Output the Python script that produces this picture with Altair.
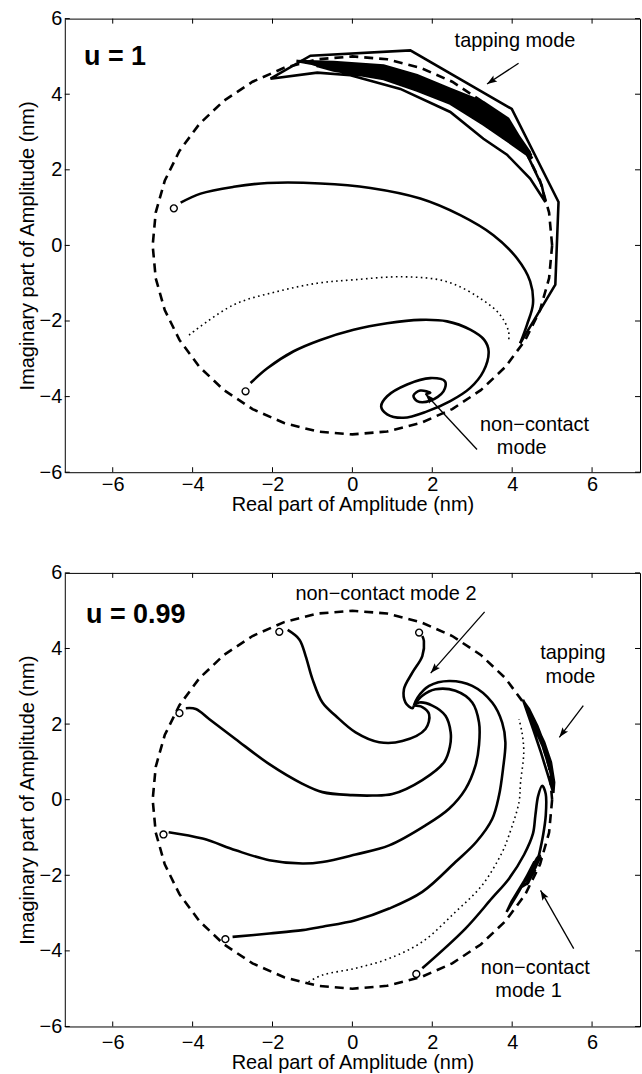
import math

import altair as alt
import pandas as pd

# ---------------- layout of each panel ----------------
X_DOMAIN = [-7.2, 7.2]
Y_DOMAIN = [-6, 6]
TICKS = [-6, -4, -2, 0, 2, 4, 6]
PANEL_W = 577
PANEL_H = 455
FONT = "Liberation Sans"
LINE_W = 2.6

# ---------------- amplitude bound |A| = 5 nm (dashed circle) ----------------
CIRCLE_X = [5.0, 4.924, 4.698, 4.330, 3.830, 3.214, 2.5, 1.710, 0.868, 0.0,
            -0.868, -1.710, -2.5, -3.214, -3.830, -4.330, -4.698, -4.924, -5.0,
            -4.924, -4.698, -4.330, -3.830, -3.214, -2.5, -1.710, -0.868, 0.0,
            0.868, 1.710, 2.5, 3.214, 3.830, 4.330, 4.698, 4.924, 5.0]
CIRCLE_Y = [0.0, 0.868, 1.710, 2.5, 3.214, 3.830, 4.330, 4.698, 4.924, 5.0,
            4.924, 4.698, 4.330, 3.830, 3.214, 2.5, 1.710, 0.868, 0.0,
            -0.868, -1.710, -2.5, -3.214, -3.830, -4.330, -4.698, -4.924, -5.0,
            -4.924, -4.698, -4.330, -3.830, -3.214, -2.5, -1.710, -0.868, 0.0]

# ================= upper panel: u = 1 =================
U1_START_X = [-4.47, -2.675]
U1_START_Y = [0.98, -3.86]

# trajectory that ends on the tapping-mode orbit (smooth approach)
U1_A_X = [-4.30, -3.80, -2.97, -2.13, -0.80, 0.45, 1.70, 2.70, 3.53, 4.12, 4.45, 4.52, 4.37, 4.20]
U1_A_Y = [1.13, 1.37, 1.55, 1.65, 1.64, 1.52, 1.24, 0.80, 0.27, -0.34, -0.95, -1.55, -2.10, -2.59]

# tapping-mode orbit (polygonal, sampled once per cycle)
U1_TAP_X = [4.20, 5.08, 5.16, 3.99, 1.45, -1.05, -2.05, -0.88, -0.05, 1.20, 2.45, 3.28, 3.87, 4.45, 4.83, 4.74, 4.40,
            3.90, 3.28, 2.45, 1.62, 0.78, -0.47, -1.20,
            -0.47, 0.78, 1.62, 2.45, 3.28, 3.90, 4.45,
            3.90, 3.28, 2.45, 1.62, 0.78, -0.47, -1.00,
            -0.47, 0.78, 1.62, 2.45, 3.28, 3.90, 4.35,
            3.90, 3.28, 2.45, 1.62, 0.78, -0.47, -1.40,
            -0.47, 0.78, 1.62, 2.45, 3.28, 3.90, 4.50,
            3.90, 3.28, 2.45, 1.62, 0.78, -0.47, -0.90,
            -0.47, 0.78, 1.62, 2.45, 3.28, 3.90, 4.40,
            3.90, 3.28, 2.45, 1.62, 0.78, -0.47, -1.10,
            -0.47, 0.78, 1.62, 2.45, 3.28, 3.90, 4.42,
            3.90, 3.28, 2.45, 1.62, 0.78, -0.47, -1.30,
            -0.47, 0.78, 1.62, 2.45, 3.28, 3.90, 4.48]
U1_TAP_Y = [-2.59, -1.04, 1.15, 3.61, 5.16, 5.02, 4.41, 4.57, 4.50, 4.14, 3.53, 2.82, 2.40, 1.77, 1.15, 1.59, 2.35,
            3.05, 3.50, 3.95, 4.30, 4.58, 4.74, 4.86,
            4.83, 4.72, 4.46, 4.10, 3.73, 3.29, 2.45,
            2.81, 3.26, 3.79, 4.14, 4.44, 4.65, 4.80,
            4.78, 4.65, 4.38, 4.02, 3.61, 3.17, 2.55,
            2.93, 3.38, 3.87, 4.22, 4.51, 4.70, 4.88,
            4.85, 4.76, 4.50, 4.14, 3.79, 3.35, 2.30,
            2.75, 3.20, 3.75, 4.10, 4.40, 4.63, 4.75,
            4.67, 4.47, 4.18, 3.83, 3.32, 2.87, 2.40,
            3.11, 3.55, 3.98, 4.34, 4.62, 4.76, 4.84,
            4.81, 4.69, 4.42, 4.06, 3.67, 3.23, 2.50,
            2.99, 3.44, 3.91, 4.26, 4.54, 4.72, 4.87,
            4.84, 4.74, 4.48, 4.12, 3.76, 3.32, 2.38]

# trajectory spiralling into the non-contact fixed point
U1_B_X = [-2.55, -2.13, -1.47, -0.80, 0.03, 0.87, 1.70, 2.37, 2.95, 3.30, 3.41, 3.28, 2.95, 2.45, 1.87,
          1.28, 0.87, 0.72, 0.87, 1.37, 1.95, 2.32, 2.28, 1.95, 1.62, 1.53, 1.70, 1.95, 1.83]
U1_B_Y = [-3.64, -3.25, -2.80, -2.50, -2.23, -2.06, -1.97, -2.01, -2.23, -2.50, -2.80, -3.33, -3.77, -4.12, -4.39,
          -4.56, -4.47, -4.26, -3.99, -3.68, -3.51, -3.60, -3.86, -4.11, -4.12, -3.97, -3.84, -3.90, -3.93]

# separatrix (dotted)
U1_SEP_X = [-4.09, -2.97, -1.88, -0.88, 0.03, 1.28, 2.37, 3.20, 3.70, 3.91, 3.91]
U1_SEP_Y = [-2.37, -1.57, -1.22, -1.00, -0.91, -0.83, -0.96, -1.40, -1.84, -2.28, -2.54]

# annotation arrows: tail -> head
U1_ARROW_X0 = [4.16, 3.12]
U1_ARROW_Y0 = [4.82, -5.40]
U1_ARROW_X1 = [3.37, 1.83]
U1_ARROW_Y1 = [4.27, -3.93]

U1_NOTE_TEXT = ["tapping mode", "non\u2212contact", "mode"]
U1_NOTE_X = [4.07, 4.56, 4.24]
U1_NOTE_Y = [5.24, -4.92, -5.52]
U1_LABEL = ["u = 1"]
U1_LABEL_X = [-6.72]
U1_LABEL_Y = [4.77]

# ================= lower panel: u = 0.99 =================
U2_START_X = [-1.83, -4.33, -4.73, -3.18, 1.60, 1.67]
U2_START_Y = [4.44, 2.29, -0.92, -3.69, -4.61, 4.42]

U2_C1_X = [-1.62, -1.33, -1.17, -1.00, -0.75, -0.42, 0.08, 0.67, 1.25, 1.83, 1.92, 1.75, 1.54]
U2_C1_Y = [4.49, 4.24, 3.80, 3.19, 2.57, 2.22, 1.78, 1.52, 1.55, 1.87, 2.26, 2.45, 2.49]

U2_C2_X = [-4.17, -3.92, -3.58, -2.92, -2.08, -1.25, -0.75, 0.00, 0.50, 1.00, 1.75, 2.30, 2.44, 2.46, 2.33,
           2.00, 1.67, 1.54]
U2_C2_Y = [2.42, 2.40, 2.13, 1.60, 0.94, 0.42, 0.20, 0.12, 0.11, 0.15, 0.52, 1.00, 1.40, 1.78, 2.22,
           2.49, 2.57, 2.49]

U2_C3_X = [-4.60, -3.75, -2.92, -2.08, -1.25, -0.75, 0.08, 0.92, 1.83, 2.42, 2.83, 3.08, 3.17, 3.17, 3.00,
           2.58, 2.08, 1.75, 1.54]
U2_C3_Y = [-0.86, -1.03, -1.34, -1.60, -1.69, -1.65, -1.45, -1.21, -0.68, -0.24, 0.28, 0.90, 1.45, 2.04, 2.57,
           2.88, 2.92, 2.75, 2.49]

U2_C4_X = [-3.00, -2.08, -1.25, -0.75, 0.08, 0.92, 1.75, 2.58, 3.10, 3.50, 3.67, 3.77, 3.83, 3.75, 3.50,
           3.00, 2.42, 1.92, 1.63, 1.54]
U2_C4_Y = [-3.63, -3.54, -3.45, -3.36, -3.19, -2.88, -2.44, -1.65, -1.12, -0.51, 0.11, 0.81, 1.52, 2.04, 2.57,
           3.01, 3.14, 3.01, 2.70, 2.49]

U2_C6_X = [1.75, 1.79, 1.75, 1.50, 1.29, 1.33, 1.50, 1.54]
U2_C6_Y = [4.33, 4.20, 3.80, 3.36, 2.92, 2.57, 2.42, 2.49]

# trajectory from the lower start point: smooth approach, then the non-contact mode 1 orbit
U2_C5_X = [1.75, 2.83, 3.50, 3.92, 4.30, 4.52, 4.58, 4.65, 4.75, 4.84, 4.84, 4.78, 4.67]
U2_C5_Y = [-4.46, -3.41, -2.60, -2.09, -1.45, -0.90, -0.42, 0.10, 0.37, 0.15, -0.42, -0.90, -1.47]
U2_NC1_X = [4.67, 4.40, 4.10, 3.86, 3.98, 4.30, 4.62, 4.70, 4.45, 4.25, 4.40, 4.66, 4.55, 4.32,
            4.50, 4.72, 4.52, 4.36, 4.58]
U2_NC1_Y = [-1.47, -2.00, -2.55, -2.97, -2.70, -2.15, -1.55, -1.45, -1.90, -2.30, -2.20, -1.62, -1.65, -2.12,
            -1.90, -1.50, -1.80, -2.25, -1.85]

# tapping-mode orbit hugging the bound
U2_TAP_X = [4.27, 4.55, 4.80, 4.97, 5.05, 5.03, 4.88, 4.72, 4.53, 4.31, 4.27,
            4.60, 4.84, 4.98, 5.04, 4.93, 4.77, 4.57, 4.35, 4.52, 4.74, 4.90, 5.00,
            4.94, 4.81, 4.63, 4.42, 4.30, 4.49, 4.68, 4.86, 4.99, 5.02, 4.91, 4.75, 4.56, 4.38]
U2_TAP_Y = [2.64, 2.08, 1.52, 0.99, 0.46, 0.18, 0.70, 1.25, 1.85, 2.52, 2.64,
            1.95, 1.35, 0.80, 0.35, 0.85, 1.40, 1.95, 2.50, 2.15, 1.62, 1.10, 0.60,
            0.95, 1.45, 1.95, 2.40, 2.58, 2.10, 1.62, 1.18, 0.70, 0.45, 1.00, 1.52, 2.02, 2.45]

U2_SEP_X = [-1.10, -0.75, 0.08, 0.92, 1.75, 2.58, 3.25, 3.75, 3.92, 4.17, 4.21, 4.29, 4.25, 4.17]
U2_SEP_Y = [-4.82, -4.64, -4.46, -4.20, -3.76, -2.97, -2.26, -1.39, -0.94, -0.07, 0.46, 1.25, 1.75, 2.13]

U2_ARROW_X0 = [3.31, 5.78, 5.54]
U2_ARROW_Y0 = [4.97, 2.49, -3.94]
U2_ARROW_X1 = [1.96, 5.18, 4.71]
U2_ARROW_Y1 = [3.35, 1.65, -2.40]

U2_NOTE_TEXT = ["non\u2212contact mode 2", "tapping", "mode", "non\u2212contact", "mode 1"]
U2_NOTE_X = [0.84, 5.52, 5.46, 4.58, 4.41]
U2_NOTE_Y = [5.29, 3.71, 3.10, -4.60, -5.21]
U2_LABEL = ["u = 0.99"]
U2_LABEL_X = [-6.67]
U2_LABEL_Y = [4.68]


def curves(*series):
    rows = []
    for k, (xs, ys) in enumerate(series):
        for i, (x, y) in enumerate(zip(xs, ys)):
            rows.append({"x": x, "y": y, "curve": k, "i": i})
    return pd.DataFrame(rows)


def arrows(x0, y0, x1, y1):
    rows = []
    for k in range(len(x0)):
        rows.append({"x": x0[k], "y": y0[k], "curve": k, "i": 0})
        rows.append({"x": x1[k], "y": y1[k], "curve": k, "i": 1})
    return pd.DataFrame(rows)


def arrow_heads(x0, y0, x1, y1):
    sx = PANEL_W / (X_DOMAIN[1] - X_DOMAIN[0])
    sy = PANEL_H / (Y_DOMAIN[1] - Y_DOMAIN[0])
    rows = []
    for k in range(len(x0)):
        ang = math.degrees(math.atan2((x1[k] - x0[k]) * sx, (y1[k] - y0[k]) * sy)) % 360
        rows.append({"x": x1[k], "y": y1[k], "ang": ang})
    return pd.DataFrame(rows)


HEAD = "M0,0 L0.7,2 L0,1.6 L-0.7,2 Z"


def panel(smooth, linear, sep, sx, sy, ax0, ay0, ax1, ay1, ntext, nx, ny, lab, lx, ly, x_label_pad):
    xs = alt.Scale(domain=X_DOMAIN, nice=False, zero=False)
    ys = alt.Scale(domain=Y_DOMAIN, nice=False, zero=False)
    x_axis = alt.Axis(values=TICKS, title="Real part of Amplitude (nm)",
                      labelPadding=x_label_pad, titlePadding=0)
    y_axis = alt.Axis(values=TICKS, title="Imaginary part of Amplitude (nm)",
                      labelPadding=3, titlePadding=2)
    ex = alt.X("x:Q", scale=xs, axis=x_axis)
    ey = alt.Y("y:Q", scale=ys, axis=y_axis)

    bound = alt.Chart(curves((CIRCLE_X, CIRCLE_Y))).mark_line(
        color="black", strokeWidth=LINE_W, strokeDash=[9, 6]
    ).encode(x=ex, y=ey, order="i:Q")
    dotted = alt.Chart(curves(sep)).mark_line(
        color="black", strokeWidth=1.6, strokeDash=[1.6, 3.4], interpolate="catmull-rom"
    ).encode(x=ex, y=ey, order="i:Q")
    smooth_l = alt.Chart(curves(*smooth)).mark_line(
        color="black", strokeWidth=LINE_W, interpolate="catmull-rom", strokeJoin="round"
    ).encode(x=ex, y=ey, detail="curve:N", order="i:Q")
    linear_l = alt.Chart(curves(*linear)).mark_line(
        color="black", strokeWidth=LINE_W, strokeJoin="miter"
    ).encode(x=ex, y=ey, detail="curve:N", order="i:Q")
    starts = alt.Chart(pd.DataFrame({"x": sx, "y": sy})).mark_point(
        shape="circle", filled=True, fill="white", stroke="black", strokeWidth=1.4, size=48, opacity=1
    ).encode(x=ex, y=ey)
    arrow_l = alt.Chart(arrows(ax0, ay0, ax1, ay1)).mark_line(
        color="black", strokeWidth=1.3
    ).encode(x=ex, y=ey, detail="curve:N", order="i:Q")
    head_l = alt.Chart(arrow_heads(ax0, ay0, ax1, ay1)).mark_point(
        shape=HEAD, filled=True, color="black", size=100, opacity=1
    ).encode(x=ex, y=ey, angle=alt.Angle("ang:Q", scale=None))
    notes = alt.Chart(pd.DataFrame({"x": nx, "y": ny, "t": ntext})).mark_text(
        font=FONT, fontSize=20, align="center", baseline="alphabetic", color="black"
    ).encode(x=ex, y=ey, text="t:N")
    label = alt.Chart(pd.DataFrame({"x": lx, "y": ly, "t": lab})).mark_text(
        font=FONT, fontSize=27, fontWeight="bold", align="left", baseline="alphabetic", color="black"
    ).encode(x=ex, y=ey, text="t:N")

    tick_df = pd.DataFrame({"x": TICKS, "y": TICKS})
    tick = alt.Chart(tick_df).mark_rule(color="black", strokeWidth=1)
    ticks = [
        tick.encode(x=ex, y=alt.value(0), y2=alt.value(5)),
        tick.encode(x=ex, y=alt.value(PANEL_H - 5), y2=alt.value(PANEL_H)),
        tick.encode(y=ey, x=alt.value(0), x2=alt.value(5)),
        tick.encode(y=ey, x=alt.value(PANEL_W - 5), x2=alt.value(PANEL_W)),
    ]
    return alt.layer(
        bound, dotted, smooth_l, linear_l, starts, arrow_l, head_l, notes, label, *ticks
    ).properties(width=PANEL_W, height=PANEL_H)


upper = panel(
    smooth=[(U1_A_X, U1_A_Y), (U1_B_X, U1_B_Y)],
    linear=[(U1_TAP_X, U1_TAP_Y)],
    sep=(U1_SEP_X, U1_SEP_Y),
    sx=U1_START_X, sy=U1_START_Y,
    ax0=U1_ARROW_X0, ay0=U1_ARROW_Y0, ax1=U1_ARROW_X1, ay1=U1_ARROW_Y1,
    ntext=U1_NOTE_TEXT, nx=U1_NOTE_X, ny=U1_NOTE_Y,
    lab=U1_LABEL, lx=U1_LABEL_X, ly=U1_LABEL_Y,
    x_label_pad=2,
)
lower = panel(
    smooth=[(U2_C1_X, U2_C1_Y), (U2_C2_X, U2_C2_Y), (U2_C3_X, U2_C3_Y), (U2_C4_X, U2_C4_Y),
            (U2_C6_X, U2_C6_Y), (U2_C5_X, U2_C5_Y)],
    linear=[(U2_NC1_X, U2_NC1_Y), (U2_TAP_X, U2_TAP_Y)],
    sep=(U2_SEP_X, U2_SEP_Y),
    sx=U2_START_X, sy=U2_START_Y,
    ax0=U2_ARROW_X0, ay0=U2_ARROW_Y0, ax1=U2_ARROW_X1, ay1=U2_ARROW_Y1,
    ntext=U2_NOTE_TEXT, nx=U2_NOTE_X, ny=U2_NOTE_Y,
    lab=U2_LABEL, lx=U2_LABEL_X, ly=U2_LABEL_Y,
    x_label_pad=6,
)

chart = alt.vconcat(upper, lower, spacing=47).properties(
    padding={"left": 16, "right": 1, "top": 6, "bottom": 2}, background="white"
).configure_view(
    stroke="black", strokeWidth=1
).configure_axis(
    labelFont=FONT, labelFontSize=20, labelColor="black", labelFlush=False,
    titleFont=FONT, titleFontSize=20, titleFontWeight="normal", titleColor="black",
    ticks=False, domain=False, grid=False,
)

chart.save("out.html", embed_options={"renderer": "svg", "actions": False})
